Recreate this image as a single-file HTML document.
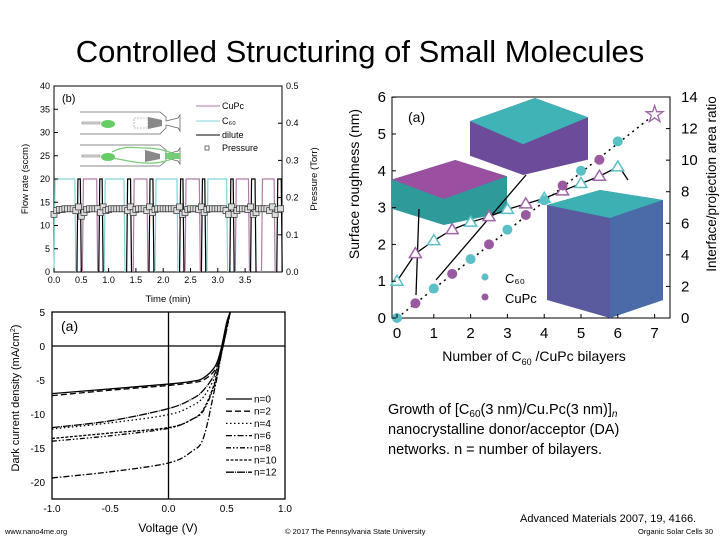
<!DOCTYPE html>
<html><head><meta charset="utf-8"><style>
html,body{margin:0;padding:0;background:#fff;}
svg{display:block;font-family:"Liberation Sans",Arial,sans-serif;}
</style></head><body>
<svg id="s" width="720" height="540" viewBox="0 0 720 540" xmlns="http://www.w3.org/2000/svg">
<text x="360" y="62" font-size="31" text-anchor="middle">Controlled Structuring of Small Molecules</text>
<g id="c1"></g>
<g id="c2"></g>
<g id="c3"></g>
<g font-size="14.5">
<text x="388" y="414">Growth of [C<tspan font-size="10" dy="3">60</tspan><tspan dy="-3">(3 nm)/Cu.Pc(3 nm)]</tspan><tspan font-style="italic" font-size="10" dy="3">n</tspan></text>
<text x="388" y="434">nanocrystalline donor/acceptor (DA)</text>
<text x="388" y="454">networks.  n = number of bilayers.</text>
</g>
<text x="520" y="522" font-size="11">Advanced Materials 2007, 19, 4166.</text>
<text x="5" y="534" font-size="7.5">www.nano4me.org</text>
<text x="285" y="534" font-size="7.5">© 2017 The Pennsylvania State University</text>
<text x="713" y="534" font-size="7.5" text-anchor="end">Organic Solar Cells 30</text>
</svg>
<script>
// ---------- chart 1 data ----------
const c60Segments = [[0,0.4],[0.92,1.3],[1.85,2.27],[2.8,3.18]];
const cupcSegments = [[0.52,0.8],[1.45,1.72],[2.4,2.68],[3.32,3.58],[3.8,4.05]];
const diluteSegments = [[0.42,0.5],[0.82,0.9],[1.33,1.42],[1.74,1.83],[2.3,2.38],[2.7,2.78],[3.22,3.3],[3.6,3.7],[4.08,4.18]];
const pressureTimes = [0,0.05,0.1,0.15,0.2,0.25,0.3,0.35,0.4,0.45,0.5,0.55,0.6,0.65,0.7,0.75,0.8,0.85,0.9,0.95,1.0,1.05,1.1,1.15,1.2,1.25,1.3,1.35,1.4,1.45,1.5,1.55,1.6,1.65,1.7,1.75,1.8,1.85,1.9,1.95,2.0,2.05,2.1,2.15,2.2,2.25,2.3,2.35,2.4,2.45,2.5,2.55,2.6,2.65,2.7,2.75,2.8,2.85,2.9,2.95,3.0,3.05,3.1,3.15,3.2,3.25,3.3,3.35,3.4,3.45,3.5,3.55,3.6,3.65,3.7,3.75,3.8,3.85,3.9,3.95,4.0,4.05,4.1,4.15];
const pressureVals = [0.155,0.165,0.168,0.168,0.17,0.17,0.17,0.17,0.165,0.175,0.15,0.16,0.168,0.17,0.17,0.17,0.17,0.16,0.175,0.165,0.168,0.17,0.17,0.17,0.17,0.17,0.17,0.165,0.175,0.16,0.168,0.17,0.17,0.17,0.165,0.175,0.16,0.168,0.17,0.17,0.17,0.17,0.17,0.17,0.17,0.165,0.175,0.155,0.16,0.168,0.17,0.17,0.17,0.168,0.175,0.16,0.168,0.17,0.17,0.17,0.17,0.17,0.17,0.165,0.155,0.175,0.155,0.165,0.17,0.17,0.17,0.168,0.175,0.155,0.16,0.17,0.17,0.17,0.17,0.165,0.175,0.155,0.168,0.17];
const flowTicks = [0,5,10,15,20,25,30,35,40];
const pressTicks = ["0.0","0.1","0.2","0.3","0.4","0.5"];
const timeTicks = ["0.0","0.5","1.0","1.5","2.0","2.5","3.0","3.5"];
// ---------- chart 2 data ----------
const c60X = [0,1,2,3,4,5,6];
const c60Rough = [0,0.8,1.6,2.4,3.2,4.0,4.8];
const cupcX = [0.5,1.5,2.5,3.5,4.5,5.5];
const cupcRough = [0.4,1.2,2.0,2.8,3.6,4.3];
const ratioX = [0,0.5,1,1.5,2,2.5,3,3.5,4,4.5,5,5.5,6];
const ratioVals = [2.33,4.08,4.9,5.6,6.07,6.42,6.88,7.23,7.58,8.05,8.52,8.98,9.57];
const starX = 7, starRatio = 12.9;
const roughTicks = [0,1,2,3,4,5,6];
const ratioTicks = [0,2,4,6,8,10,12,14];
const bilayerTicks = [0,1,2,3,4,5,6,7];
// ---------- chart 3 data ----------
const voltage = [-1,-0.5,0,0.2,0.3,0.4,0.45,0.5,0.53];
const jN0 = [-7,-6.3,-5.6,-5.2,-4.7,-3,-0.5,3.5,5];
const jN2 = [-7.3,-6.5,-5.8,-5.4,-5,-3.5,-1,3,5];
const jN4 = [-12.2,-11.3,-10.1,-8.8,-7.5,-4.5,-1.5,2.5,5];
const jN6 = [-19.4,-18.5,-17.2,-15.5,-13.5,-6,-1.5,2.5,5];
const jN8 = [-14,-13.2,-12.1,-10.8,-9.5,-5.5,-1.5,2.5,5];
const jN10 = [-13.6,-12.8,-12,-10.8,-9.3,-5.2,-1.2,2.7,5];
const jN12 = [-12,-11,-9.2,-7.8,-6.5,-4,-1,3,5];
const seriesLabels = ["n=0","n=2","n=4","n=6","n=8","n=10","n=12"];
const voltTicks = ["-1.0","-0.5","0.0","0.5","1.0"];
const jTicks = [5,0,-5,-10,-15,-20];

const NS="http://www.w3.org/2000/svg";
function mk(parent,tag,attrs,text){const e=document.createElementNS(NS,tag);for(const k in attrs)e.setAttribute(k,attrs[k]);if(text!==undefined)e.textContent=text;parent.appendChild(e);return e;}

// ===== chart 1 =====
(function(){
const g=document.getElementById('c1');
const x=t=>54+t*54.6, y=v=>272-v*4.65, yp=p=>272-p*372;
const fr=mk(g,'rect',{x:54,y:86,width:228,height:186,fill:'#fff',stroke:'#000','stroke-width':1});

function seg(list,color,name){list.forEach(s=>{const p=mk(g,'path',{d:`M${x(s[0])},${y(0)} L${x(s[0])+1},${y(20)} L${x(s[1])-1},${y(20)} L${x(s[1])},${y(0)}`,fill:'none',stroke:color,'stroke-width':1.2});

});}
seg(c60Segments,'#7fd4dc','c60-flow');
seg(cupcSegments,'#b07aa8','cupc-flow');
seg(diluteSegments,'#000','dilute-flow');
pressureTimes.forEach((t,i)=>{const r=mk(g,'rect',{x:x(t)-3,y:yp(pressureVals[i])-3,width:6,height:6,fill:'#ddd',stroke:'#333','stroke-width':0.7});

});
flowTicks.forEach(v=>{mk(g,'line',{x1:54,x2:58,y1:y(v),y2:y(v),stroke:'#000'});const t=mk(g,'text',{x:50,y:y(v)+3,'font-size':9,'text-anchor':'end'},v);

});
pressTicks.forEach(v=>{mk(g,'line',{x1:278,x2:282,y1:yp(+v),y2:yp(+v),stroke:'#000'});const t=mk(g,'text',{x:286,y:yp(+v)+3,'font-size':9},v);

});
timeTicks.forEach(v=>{mk(g,'line',{x1:x(+v),x2:x(+v),y1:272,y2:268,stroke:'#000'});const t=mk(g,'text',{x:x(+v),y:283,'font-size':9,'text-anchor':'middle'},v);

});
mk(g,'text',{x:0,y:0,'font-size':9.5,'text-anchor':'middle',transform:'translate(28,179) rotate(-90)',},'Flow rate (sccm)');
mk(g,'text',{x:0,y:0,'font-size':9.5,'text-anchor':'middle',transform:'translate(317,179) rotate(-90)',},'Pressure (Torr)');
mk(g,'text',{x:168,y:302,'font-size':9.5,'text-anchor':'middle',},'Time (min)');
mk(g,'text',{x:62,y:102,'font-size':11,},'(b)');
// schematic
const sc=mk(g,'g',{});
mk(sc,'path',{d:'M80,112 H160 L166,117 V121 L178,118 L180,115 V131 L178,128 L166,125 V128 L160,134 H80',fill:'none',stroke:'#666','stroke-width':0.8});
mk(sc,'rect',{x:82,y:122,width:18,height:2,fill:'#ddd',stroke:'#777','stroke-width':0.5});
mk(sc,'ellipse',{cx:108,cy:124,rx:7,ry:4,fill:'#6c6'});
mk(sc,'rect',{x:134,y:118,width:14,height:10,fill:'none',stroke:'#888','stroke-width':0.6,'stroke-dasharray':'2,1'});
mk(sc,'path',{d:'M148,117 L162,120 V126 L148,129 Z',fill:'#888'});
mk(sc,'path',{d:'M80,145 H160 L166,150 V154 L178,151 L180,148 V164 L178,161 L166,158 V161 L160,166 H80',fill:'none',stroke:'#666','stroke-width':0.8});
mk(sc,'rect',{x:82,y:155,width:18,height:2,fill:'#ddd',stroke:'#777','stroke-width':0.5});
mk(sc,'ellipse',{cx:108,cy:157,rx:7,ry:4,fill:'#6c6'});
mk(sc,'path',{d:'M112,152 C125,145 135,148 145,148 C160,148 170,152 180,156 C170,160 160,164 145,163 C135,163 125,160 112,158',fill:'none',stroke:'#7c7','stroke-width':1.2});
mk(sc,'path',{d:'M165,153 H180 V159 H165 Z',fill:'#7c7'});
mk(sc,'path',{d:'M145,150 L160,154 V159 L145,162 Z',fill:'#888'});
// legend
const lg=mk(g,'g',{'font-size':9});
mk(lg,'line',{x1:196,x2:220,y1:106,y2:106,stroke:'#b07aa8'});mk(lg,'text',{x:222,y:109},'CuPc');
mk(lg,'line',{x1:196,x2:220,y1:121,y2:121,stroke:'#7fd4dc'});mk(lg,'text',{x:222,y:124},'C₆₀');
mk(lg,'line',{x1:196,x2:220,y1:135,y2:135,stroke:'#000'});mk(lg,'text',{x:222,y:138},'dilute');
mk(lg,'rect',{x:205,y:146,width:4,height:4,fill:'#fff',stroke:'#333','stroke-width':0.7});mk(lg,'text',{x:222,y:151},'Pressure');
})();

// ===== chart 2 =====
(function(){
const g=document.getElementById('c2');
const x=n=>397+n*36.8, y=r=>318-r*36.8, yr=q=>318-q*(221/14);
const fr=mk(g,'rect',{x:392,y:97,width:278,height:221,fill:'#fff',stroke:'#000','stroke-width':1});

function block(bx,by,w,h,top,side,name){const b=mk(g,'g',{});
mk(b,'path',{d:`M${bx},${by+h*0.3} L${bx+w*0.55},${by} L${bx+w},${by+h*0.25} L${bx+w},${by+h*0.8} L${bx+w*0.45},${by+h} L${bx},${by+h*0.75} Z`,fill:side});
mk(b,'path',{d:`M${bx},${by+h*0.3} L${bx+w*0.55},${by} L${bx+w},${by+h*0.25} L${bx+w*0.45},${by+h*0.6} Z`,fill:top});}
block(392,160,115,65,'#9a4fa0','#2e9a9a','cupc-surface-image');
block(470,98,118,77,'#3fb3b5','#6b4b9a','c60-surface-image');
const bb=mk(g,'g',{});
mk(bb,'path',{d:'M547,205 L600,190 L663,200 L663,300 L610,318 L547,300 Z',fill:'#5a5a9f'});
mk(bb,'path',{d:'M547,205 L600,190 L663,200 L610,218 Z',fill:'#3cb0b2'});
mk(bb,'path',{d:'M610,218 L663,200 L663,300 L610,318 Z',fill:'#4a6aa8'});
[[419,209,416,295],[526,175,436,280],[628,180,618,165]].forEach(a=>{const l=mk(g,'line',{x1:a[0],y1:a[1],x2:a[2],y2:a[3],stroke:'#000','stroke-width':1.3});
});
const dl=mk(g,'line',{x1:x(0),y1:y(0),x2:x(starX),y2:yr(starRatio),stroke:'#000','stroke-width':1.5,'stroke-dasharray':'2,4'});

const tl=mk(g,'polyline',{points:ratioX.map((v,i)=>x(v)+','+yr(ratioVals[i])).join(' '),fill:'none',stroke:'#000','stroke-width':1.3});

ratioX.forEach((v,i)=>{const cx=x(v),cy=yr(ratioVals[i]);const col=(v%1===0)?'#5bbfc6':'#a064a8';
const p=mk(g,'path',{d:`M${cx},${cy-6} L${cx+6},${cy+4} L${cx-6},${cy+4} Z`,fill:'#fff',stroke:col,'stroke-width':1.5});
});
c60X.forEach((v,i)=>{const c=mk(g,'circle',{cx:x(v),cy:y(c60Rough[i]),r:5,fill:'#5bbfc6'});
});
cupcX.forEach((v,i)=>{const c=mk(g,'circle',{cx:x(v),cy:y(cupcRough[i]),r:5,fill:'#9a5aa0'});
});
const st=mk(g,'text',{x:x(starX),y:yr(starRatio)+7,'font-size':22,'text-anchor':'middle',fill:'#fff',stroke:'#a064a8','stroke-width':1.3},'★');

roughTicks.forEach(v=>{mk(g,'line',{x1:392,x2:396,y1:y(v),y2:y(v),stroke:'#000'});const t=mk(g,'text',{x:386,y:y(v)+5,'font-size':15,'text-anchor':'end'},v);
});
ratioTicks.forEach(v=>{mk(g,'line',{x1:666,x2:670,y1:yr(v),y2:yr(v),stroke:'#000'});const t=mk(g,'text',{x:681,y:yr(v)+5,'font-size':15},v);
});
bilayerTicks.forEach(v=>{mk(g,'line',{x1:x(v),x2:x(v),y1:318,y2:314,stroke:'#000'});const t=mk(g,'text',{x:x(v),y:338,'font-size':15,'text-anchor':'middle'},v);
});
mk(g,'text',{x:0,y:0,'font-size':14,'text-anchor':'middle',transform:'translate(359,184) rotate(-90)',},'Surface roughness (nm)');
mk(g,'text',{x:0,y:0,'font-size':13.5,'text-anchor':'middle',transform:'translate(716,184) rotate(-90)',},'Interface/projection area ratio');
const xt=mk(g,'text',{x:534,y:361,'font-size':14,'text-anchor':'middle',});
xt.innerHTML='Number of C<tspan font-size="9" dy="4">60</tspan><tspan dy="-4"> /CuPc bilayers</tspan>';
mk(g,'text',{x:408,y:122,'font-size':14,},'(a)');
mk(g,'circle',{cx:485,cy:277,r:3.5,fill:'#5bbfc6'});mk(g,'text',{x:505,y:283,'font-size':13},'C₆₀');
mk(g,'circle',{cx:485,cy:297,r:3.5,fill:'#9a5aa0'});mk(g,'text',{x:505,y:303,'font-size':13},'CuPc');
})();

// ===== chart 3 =====
(function(){
const g=document.getElementById('c3');
const x=v=>168.5+v*116.5, y=j=>346-j*6.8;
const fr=mk(g,'rect',{x:52,y:312,width:233,height:187,fill:'#fff',stroke:'#000','stroke-width':1.3});

mk(g,'line',{x1:52,x2:285,y1:y(0),y2:y(0),stroke:'#000','stroke-width':1.3,});
mk(g,'line',{x1:x(0),x2:x(0),y1:312,y2:499,stroke:'#000','stroke-width':1.3,});
const series=[jN0,jN2,jN4,jN6,jN8,jN10,jN12];
const dashes=['none','6,3','1.5,2.5','6,2,1.5,2','5,2,1.5,2,1.5,2','3,1.5','8,1,1,1'];
function smooth(pts){let d=`M${pts[0][0]},${pts[0][1]}`;for(let i=0;i<pts.length-1;i++){const p0=pts[i-1]||pts[i],p1=pts[i],p2=pts[i+1],p3=pts[i+2]||p2;
d+=` C${p1[0]+(p2[0]-p0[0])/6},${p1[1]+(p2[1]-p0[1])/6} ${p2[0]-(p3[0]-p1[0])/6},${p2[1]-(p3[1]-p1[1])/6} ${p2[0]},${p2[1]}`;}return d;}
series.forEach((s,k)=>{const pts=voltage.map((v,i)=>[x(v),y(s[i])]);
const p=mk(g,'path',{d:smooth(pts),fill:'none',stroke:'#000','stroke-width':1.3,'stroke-dasharray':dashes[k]});


const ly=399+k*12.2;
const l=mk(g,'line',{x1:226,x2:252,y1:ly,y2:ly,stroke:'#000','stroke-width':1.3,'stroke-dasharray':dashes[k]});

const t=mk(g,'text',{x:254,y:ly+3.5,'font-size':10},seriesLabels[k]);
});
voltTicks.forEach(v=>{const t=mk(g,'text',{x:x(+v),y:512,'font-size':10,'text-anchor':'middle'},v);
});
jTicks.forEach(v=>{const t=mk(g,'text',{x:45,y:y(v)+4,'font-size':10,'text-anchor':'end'},v);
});
const yt=mk(g,'text',{x:0,y:0,'font-size':11,'text-anchor':'middle',transform:'translate(19,398) rotate(-90)',});
yt.innerHTML='Dark current density (mA/cm<tspan font-size="7" dy="-4">2</tspan><tspan dy="4">)</tspan>';
mk(g,'text',{x:168,y:532,'font-size':12,'text-anchor':'middle',},'Voltage (V)');
mk(g,'text',{x:61,y:331,'font-size':14,},'(a)');
})();
</script>
</body></html>
